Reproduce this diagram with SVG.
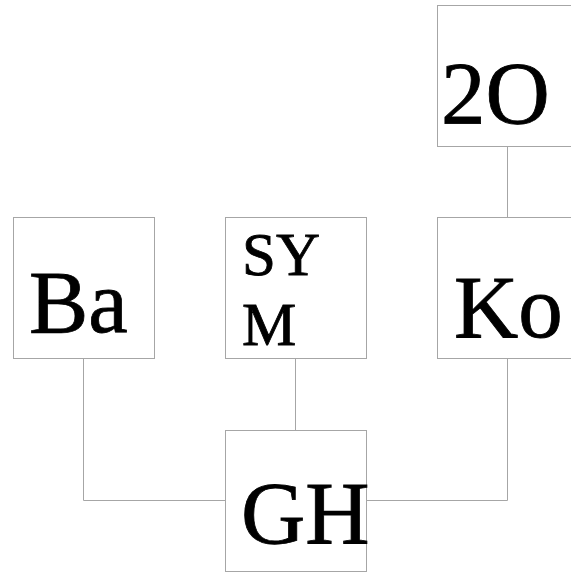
<svg xmlns="http://www.w3.org/2000/svg" width="571" height="572" viewBox="0 0 571 572">
<style>
.box{fill:#fff;stroke:#a6a6a6;stroke-width:1}
.lbl{font-family:"Liberation Serif","Times New Roman",serif;fill:#000;stroke:#000;stroke-width:0.8}
.big{font-size:89px}
.sm{font-size:61px}
.conn{fill:none;stroke:#a6a6a6;stroke-width:1}
</style>
<rect width="571" height="572" fill="#fff"/>
<g id="connectors">
<path class="conn" d="M507.5 146.5V217.5"/>
<path class="conn" d="M83.5 358.5V500.5H225.5"/>
<path class="conn" d="M295.5 358.5V430.5"/>
<path class="conn" d="M507.5 358.5V500.5H366.5"/>
</g>
<g id="n2O">
<rect class="box" x="437.5" y="5.5" width="141" height="141"/>
<text class="lbl big" x="441" y="123">2O</text>
</g>
<g id="nBa">
<rect class="box" x="13.5" y="217.5" width="141" height="141"/>
<text class="lbl big" x="29" y="332">Ba</text>
</g>
<g id="nSYM">
<rect class="box" x="225.5" y="217.5" width="141" height="141"/>
<text class="lbl sm" x="242" y="275">SY</text>
<text class="lbl sm" x="242" y="345">M</text>
</g>
<g id="nKo">
<rect class="box" x="437.5" y="217.5" width="141" height="141"/>
<text class="lbl big" x="454" y="337">Ko</text>
</g>
<g id="nGH">
<rect class="box" x="225.5" y="430.5" width="141" height="141"/>
<text class="lbl big" x="241" y="543">GH</text>
</g>
</svg>
